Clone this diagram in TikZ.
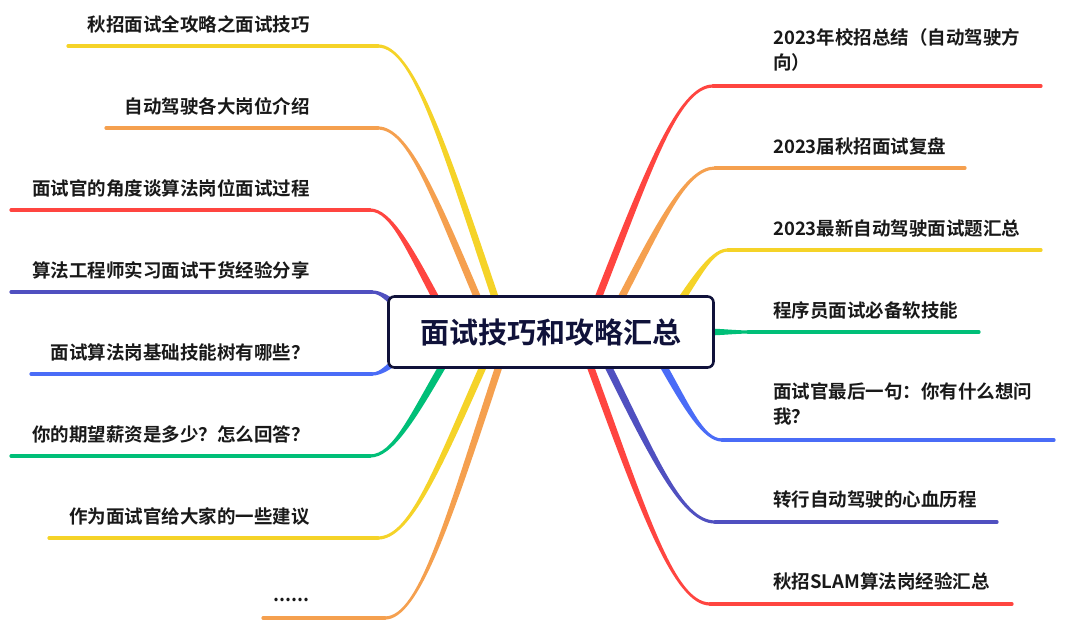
\documentclass[tikz,border=0pt]{standalone}
\usepackage{fontspec}
\newfontfamily\cjk{Noto Sans CJK SC}[BoldFont={Noto Sans CJK SC Bold}]
\usetikzlibrary{calc,backgrounds}
\definecolor{HubNavy}{RGB}{16,18,58}
\definecolor{BrYellow}{RGB}{245,211,40}
\definecolor{BrOrange}{RGB}{245,160,79}
\definecolor{BrRed}{RGB}{255,69,64}
\definecolor{BrPurple}{RGB}{80,80,192}
\definecolor{BrBlue}{RGB}{74,108,247}
\definecolor{BrGreen}{RGB}{0,191,120}
\tikzset{
  hubbox/.style={draw=HubNavy,fill=white,rounded corners=6pt,line width=2.6pt,
                 minimum width=325pt,minimum height=71pt,inner sep=0pt,
                 font=\cjk\bfseries\fontsize{29}{34}\selectfont,text=HubNavy},
  lbl/.style={inner sep=0pt,align=left,text=black!90,
              font=\cjk\bfseries\fontsize{18.5}{24.5}\selectfont},
  uline/.style={line width=3.2pt,line cap=round},
}
% tapered stem from a point inside the hub to the joint of an underline
\newcommand{\stem}[3]{%
  \fill[#1] let \p1=(#2), \p2=(#3),
      \n1={veclen(0.44*((\x1)-(\x2)),0.6*((\y2)-(\y1)))},
      \n2={1.6*sign((\x1)-(\x2))},
      \n3={3.6*0.6*((\y2)-(\y1))/\n1}, \n4={3.6*0.44*((\x1)-(\x2))/\n1},
      \p3=({(\x2)+0.3*((\x1)-(\x2))},\y2),
      \p4=({(\x1)-0.44*((\x1)-(\x2))},{(\y1)+0.6*((\y2)-(\y1))}) in
    (\x2,{(\y2)+(\n2)}) .. controls (\x3,{(\y3)+(\n2)}) and ({(\x4)+(\n3)},{(\y4)+(\n4)})
      .. ({(\x1)+(\n3)},{(\y1)+(\n4)})
    -- ({(\x1)-(\n3)},{(\y1)-(\n4)}) .. controls ({(\x4)-(\n3)},{(\y4)-(\n4)}) and (\x3,{(\y3)-(\n2)})
      .. (\x2,{(\y2)-(\n2)}) -- cycle;
}

\begin{document}
\begin{tikzpicture}[x=1pt,y=-1pt]
  \useasboundingbox (0,0) rectangle (1080,633);

  \node[hubbox] (hub) at (551,332) {面试技巧和攻略汇总};

  \node[lbl,anchor=east] (l1) at (310,24) {秋招面试全攻略之面试技巧};
  \node[lbl,anchor=east] (l2) at (310,106) {自动驾驶各大岗位介绍};
  \node[lbl,anchor=east] (l3) at (310,188) {面试官的角度谈算法岗位面试过程};
  \node[lbl,anchor=east] (l4) at (310,270) {算法工程师实习面试干货经验分享};
  \node[lbl,anchor=east] (l5) at (310,352) {面试算法岗基础技能树有哪些？};
  \node[lbl,anchor=east] (l6) at (310,434) {你的期望薪资是多少？怎么回答？};
  \node[lbl,anchor=east] (l7) at (310,516) {作为面试官给大家的一些建议};
  \node[lbl,anchor=east] (l8) at (310,600) {......};

  \node[lbl,anchor=west] (r1) at (773,50) {2023年校招总结（自动驾驶方\\向）};
  \node[lbl,anchor=west] (r2) at (773,146) {2023届秋招面试复盘};
  \node[lbl,anchor=west] (r3) at (773,228) {2023最新自动驾驶面试题汇总};
  \node[lbl,anchor=west] (r4) at (773,310) {程序员面试必备软技能};
  \node[lbl,anchor=west] (r5) at (773,404) {面试官最后一句：你有什么想问\\我？};
  \node[lbl,anchor=west] (r6) at (773,499) {转行自动驾驶的心血历程};
  \node[lbl,anchor=west] (r7) at (773,581) {秋招SLAM算法岗经验汇总};

  \coordinate (hl1) at (498,306); \coordinate (jl1) at (378,46);  \coordinate (el1) at (68,46);
  \coordinate (hl2) at (481,306); \coordinate (jl2) at (378,128); \coordinate (el2) at (106,128);
  \coordinate (hl3) at (440,306); \coordinate (jl3) at (370,210); \coordinate (el3) at (11,210);
  \coordinate (hl4) at (402,310); \coordinate (jl4) at (372,292); \coordinate (el4) at (11,292);
  \coordinate (hl5) at (402,356); \coordinate (jl5) at (372,374); \coordinate (el5) at (31,374);
  \coordinate (hl6) at (446,360); \coordinate (jl6) at (370,456); \coordinate (el6) at (11,456);
  \coordinate (hl7) at (486,360); \coordinate (jl7) at (378,538); \coordinate (el7) at (49,538);
  \coordinate (hl8) at (501,360); \coordinate (jl8) at (385,618); \coordinate (el8) at (263,618);

  \coordinate (hr1) at (595,306); \coordinate (jr1) at (713,86);  \coordinate (er1) at (1041,86);
  \coordinate (hr2) at (617,306); \coordinate (jr2) at (715,168); \coordinate (er2) at (965,168);
  \coordinate (hr3) at (677,306); \coordinate (jr3) at (728,250); \coordinate (er3) at (1041,250);
  \coordinate (hr4) at (700,332); \coordinate (jr4) at (748,332); \coordinate (er4) at (979,332);
  \coordinate (hr5) at (660,360); \coordinate (jr5) at (722,440); \coordinate (er5) at (1054,440);
  \coordinate (hr6) at (605,360); \coordinate (jr6) at (715,522); \coordinate (er6) at (997,522);
  \coordinate (hr7) at (588,360); \coordinate (jr7) at (710,604); \coordinate (er7) at (1012,604);

  \begin{scope}[on background layer]
    \fill[white] (0,0) rectangle (1080,633);
    \stem{BrYellow}{hl1}{jl1} \draw[uline,BrYellow] (jl1) -- (el1);
    \stem{BrOrange}{hl2}{jl2} \draw[uline,BrOrange] (jl2) -- (el2);
    \stem{BrRed}{hl3}{jl3}    \draw[uline,BrRed] (jl3) -- (el3);
    \stem{BrPurple}{hl4}{jl4} \draw[uline,BrPurple] (jl4) -- (el4);
    \stem{BrBlue}{hl5}{jl5}   \draw[uline,BrBlue] (jl5) -- (el5);
    \stem{BrGreen}{hl6}{jl6}  \draw[uline,BrGreen] (jl6) -- (el6);
    \stem{BrYellow}{hl7}{jl7} \draw[uline,BrYellow] (jl7) -- (el7);
    \stem{BrOrange}{hl8}{jl8} \draw[uline,BrOrange] (jl8) -- (el8);

    \stem{BrRed}{hr1}{jr1}    \draw[uline,BrRed] (jr1) -- (er1);
    \stem{BrOrange}{hr2}{jr2} \draw[uline,BrOrange] (jr2) -- (er2);
    \stem{BrYellow}{hr3}{jr3} \draw[uline,BrYellow] (jr3) -- (er3);
    \stem{BrGreen}{hr4}{jr4}  \draw[uline,BrGreen] (jr4) -- (er4);
    \stem{BrBlue}{hr5}{jr5}   \draw[uline,BrBlue] (jr5) -- (er5);
    \stem{BrPurple}{hr6}{jr6} \draw[uline,BrPurple] (jr6) -- (er6);
    \stem{BrRed}{hr7}{jr7}    \draw[uline,BrRed] (jr7) -- (er7);
  \end{scope}
\end{tikzpicture}
\end{document}
